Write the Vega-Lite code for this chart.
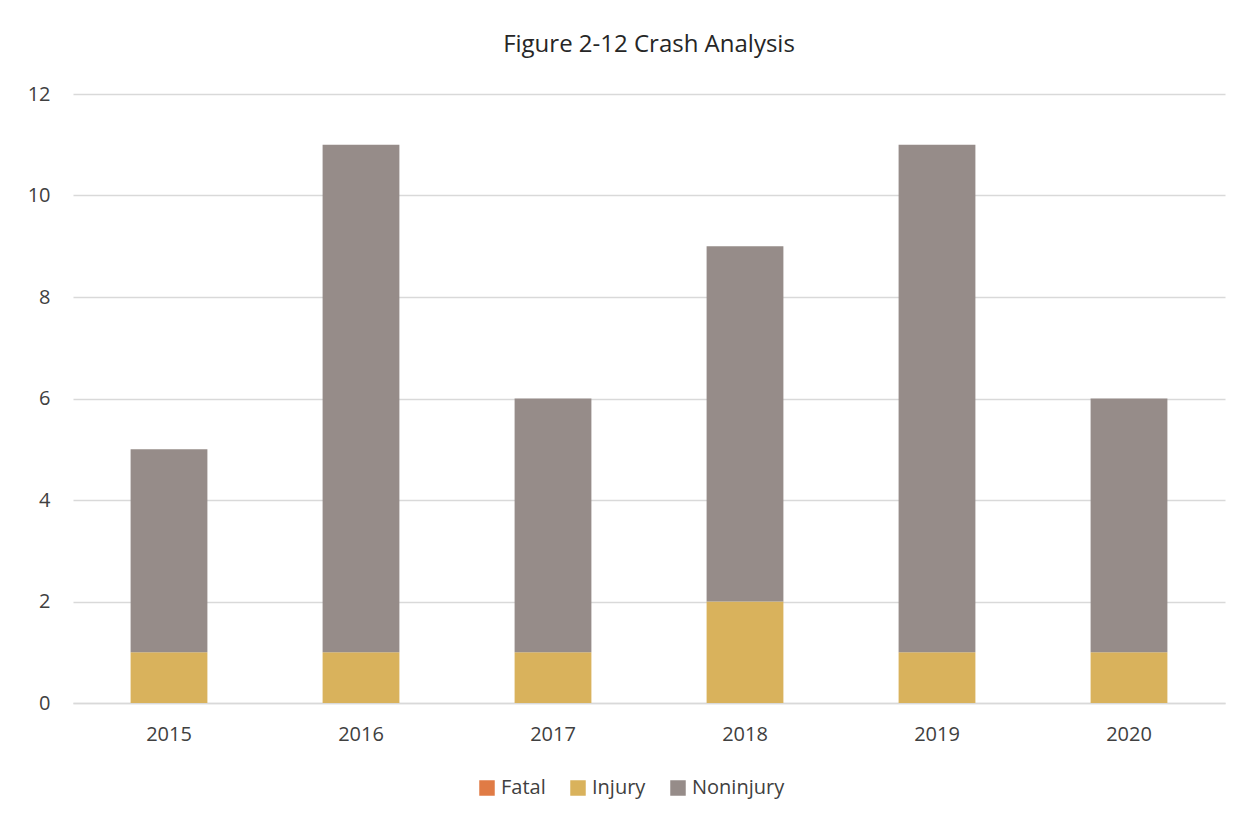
{
  "$schema": "https://vega.github.io/schema/vega-lite/v6.json",
  "width": 1152,
  "height": 609,
  "autosize": {"type": "none"},
  "padding": {"left": 73, "top": 94, "right": 30, "bottom": 121},
  "background": "white",
  "title": {
    "text": "Figure 2-12 Crash Analysis",
    "fontSize": 24,
    "font": "Open Sans",
    "fontWeight": "normal",
    "color": "#262626",
    "anchor": "middle",
    "offset": 27
  },
  "data": {
    "values": [
      {"year": "2015", "type": "Fatal", "count": 0},
      {"year": "2015", "type": "Injury", "count": 1},
      {"year": "2015", "type": "Noninjury", "count": 4},
      {"year": "2016", "type": "Fatal", "count": 0},
      {"year": "2016", "type": "Injury", "count": 1},
      {"year": "2016", "type": "Noninjury", "count": 10},
      {"year": "2017", "type": "Fatal", "count": 0},
      {"year": "2017", "type": "Injury", "count": 1},
      {"year": "2017", "type": "Noninjury", "count": 5},
      {"year": "2018", "type": "Fatal", "count": 0},
      {"year": "2018", "type": "Injury", "count": 2},
      {"year": "2018", "type": "Noninjury", "count": 7},
      {"year": "2019", "type": "Fatal", "count": 0},
      {"year": "2019", "type": "Injury", "count": 1},
      {"year": "2019", "type": "Noninjury", "count": 10},
      {"year": "2020", "type": "Fatal", "count": 0},
      {"year": "2020", "type": "Injury", "count": 1},
      {"year": "2020", "type": "Noninjury", "count": 5}
    ]
  },
  "mark": {"type": "bar"},
  "encoding": {
    "x": {
      "field": "year",
      "type": "nominal",
      "scale": {"paddingInner": 0.6, "paddingOuter": 0.3},
      "axis": {
        "title": null,
        "labelAngle": 0,
        "labelFontSize": 20,
        "labelFont": "Open Sans",
        "labelColor": "#404040",
        "labelPadding": 21,
        "ticks": false,
        "domainColor": "#D9D9D9",
        "domainWidth": 1.5,
        "grid": false
      }
    },
    "y": {
      "field": "count",
      "type": "quantitative",
      "aggregate": "sum",
      "stack": "zero",
      "scale": {"domain": [0, 12]},
      "axis": {
        "title": null,
        "values": [0, 2, 4, 6, 8, 10, 12],
        "labelFontSize": 20,
        "labelFont": "Open Sans",
        "labelColor": "#404040",
        "labelPadding": 23,
        "ticks": false,
        "domain": false,
        "gridColor": "#D9D9D9",
        "gridWidth": 1.5
      }
    },
    "order": {"field": "type", "type": "nominal", "sort": "ascending"},
    "color": {
      "field": "type",
      "type": "nominal",
      "scale": {
        "domain": ["Fatal", "Injury", "Noninjury"],
        "range": ["#E07B45", "#D9B25C", "#968C89"]
      },
      "legend": {
        "title": null,
        "orient": "none",
        "legendX": 404,
        "legendY": 684,
        "direction": "horizontal",
        "symbolType": "square",
        "symbolSize": 240,
        "symbolStrokeWidth": 0,
        "labelFontSize": 20,
        "labelFont": "Open Sans",
        "labelColor": "#404040",
        "columnPadding": 22
      }
    }
  },
  "config": {
    "view": {"stroke": null}
  }
}
